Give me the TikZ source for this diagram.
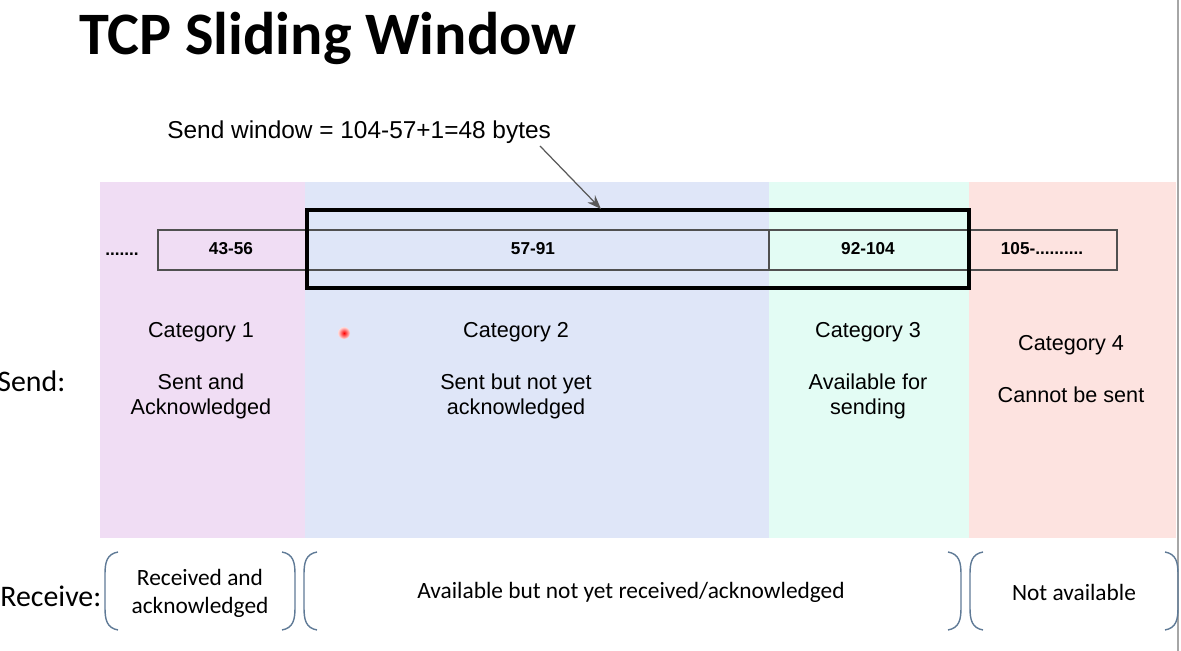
\documentclass[tikz,border=0pt]{standalone}
\usepackage{fontspec}
\setmainfont{Liberation Sans}
\newfontfamily\calibri{Carlito}
\usetikzlibrary{arrows.meta}

\definecolor{catone}{RGB}{240,221,244}
\definecolor{cattwo}{RGB}{223,230,248}
\definecolor{catthree}{RGB}{227,252,244}
\definecolor{catfour}{RGB}{253,227,224}
\definecolor{parencol}{RGB}{95,122,150}
\definecolor{barline}{RGB}{80,80,80}

\begin{document}
\begin{tikzpicture}[x=0.02cm, y=-0.02cm,
  cattext/.style={font=\fontsize{12.3}{14.2}\selectfont, align=center},
  seglabel/.style={font=\fontsize{9.8}{11}\selectfont\bfseries, anchor=base},
  recvtext/.style={font=\calibri\fontsize{13.3}{15.9}\selectfont, align=center},
  sidetext/.style={font=\calibri\fontsize{17}{20}\selectfont, anchor=west, inner sep=0pt},
  parenline/.style={draw=parencol, line width=0.8pt}]
\useasboundingbox (0,0) rectangle (1181,651);

% coordinates
\coordinate (NW) at (100,182);
\coordinate (C12) at (305,538);
\coordinate (C12top) at (305,182);
\coordinate (C23) at (769,538);
\coordinate (C23top) at (769,182);
\coordinate (C34) at (969,538);
\coordinate (C34top) at (969,182);
\coordinate (SE) at (1176,538);

% category backgrounds
\fill[catone] (NW) rectangle (C12);
\fill[cattwo] (C12top) rectangle (C23);
\fill[catthree] (C23top) rectangle (C34);
\fill[catfour] (C34top) rectangle (SE);

% slide edge
\draw[gray!70, line width=1.2pt] (1178,0) -- (1178,651);

% title
\node[anchor=base west, inner sep=0pt, font=\calibri\bfseries\fontsize{34.3}{38}\selectfont] (title) at (79,55) {TCP Sliding Window};

% byte stream
\begin{scope}[barline, line width=0.6pt]
\draw (158,230) rectangle (307,270);
\draw (307,230) rectangle (769,270);
\draw (769,230) rectangle (969,270);
\draw (969,230) rectangle (1117,270);
\end{scope}
\node[seglabel] (dotsL) at (122,256) {.......};
\node[seglabel] (seg1) at (231,255) {43-56};
\node[seglabel] (seg2) at (533,255) {57-91};
\node[seglabel] (seg3) at (868,255) {92-104};
\node[seglabel] (seg4) at (1042,255) {105-..........};

% send window
\coordinate (WinNW) at (307,210);
\coordinate (WinSE) at (969,288);
\draw[line width=1.9pt] (WinNW) rectangle (WinSE);
\node[anchor=west, inner sep=0pt, font=\fontsize{13.9}{16}\selectfont] (sendwin) at (167,132) {Send window = 104-57+1=48 bytes};
\coordinate (arrTail) at (540,146);
\coordinate (arrHead) at (601,209);
\draw[-{Stealth[length=8pt, width=6pt]}, black!65, line width=0.7pt] (arrTail) -- (arrHead);

% categories
\node[cattext] (cat1) at (201,332) {Category 1};
\node[cattext] (cat1txt) at (201,396) {Sent and\\Acknowledged};
\node[cattext] (cat2) at (516,332) {Category 2};
\node[cattext] (cat2txt) at (516,396) {Sent but not yet\\acknowledged};
\node[cattext] (cat3) at (868,332) {Category 3};
\node[cattext] (cat3txt) at (868,396) {Available for\\sending};
\node[cattext] (cat4) at (1071,345) {Category 4};
\node[cattext] (cat4txt) at (1071,395) {Cannot be sent};

% pointer dot
\shade[inner color=red, outer color=red!12] (344,333) circle (6);

% row labels
\node[sidetext] (send) at (-3,381) {Send:};
\node[sidetext] (receive) at (0,596) {Receive:};

% receive brackets
\begin{scope}[parenline]
\draw (118,552) .. controls (107,554) and (105,562) .. (105,574) -- (105,608) .. controls (105,620) and (107,628) .. (118,630);
\draw (282,552) .. controls (293,554) and (295,562) .. (295,574) -- (295,608) .. controls (295,620) and (293,628) .. (282,630);
\draw (317,552) .. controls (306,554) and (304,562) .. (304,574) -- (304,608) .. controls (304,620) and (306,628) .. (317,630);
\draw (948,552) .. controls (959,554) and (961,562) .. (961,574) -- (961,608) .. controls (961,620) and (959,628) .. (948,630);
\draw (983,552) .. controls (972,554) and (970,562) .. (970,574) -- (970,608) .. controls (970,620) and (972,628) .. (983,630);
\draw (1165,552) .. controls (1176,554) and (1178,562) .. (1178,574) -- (1178,608) .. controls (1178,620) and (1176,628) .. (1165,630);
\end{scope}
\node[recvtext] (recv1) at (200,593) {Received and\\acknowledged};
\node[recvtext] (recv2) at (631,592) {Available but not yet received/acknowledged};
\node[recvtext] (recv3) at (1074,592) {Not available};

\end{tikzpicture}
\end{document}
